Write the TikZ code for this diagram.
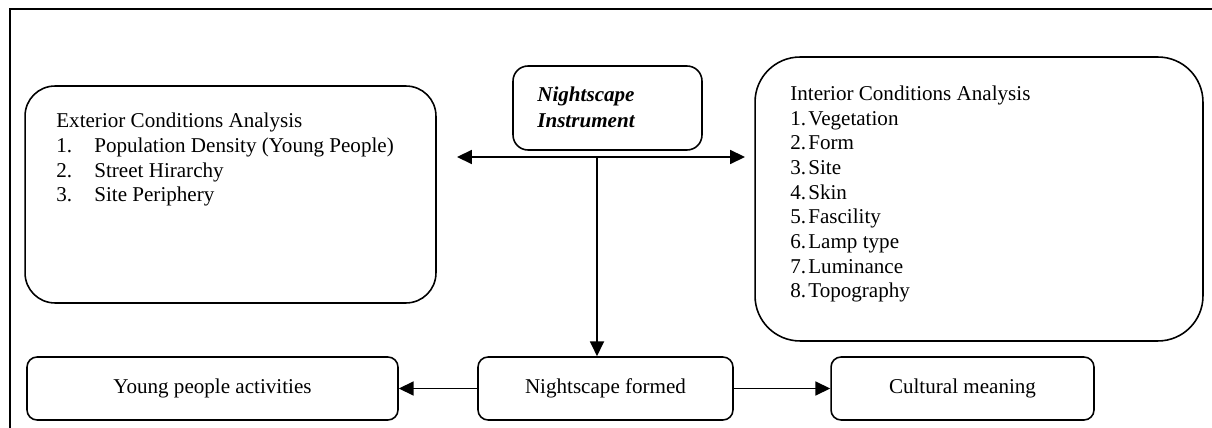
\documentclass[tikz,border=0pt]{standalone}
\usepackage{fontspec}
\setmainfont{Liberation Serif}
\usetikzlibrary{arrows.meta}

\begin{document}
\begin{tikzpicture}[x=0.02cm, y=-0.02cm,
  roundbox/.style={draw, rounded corners=#1, line width=0.9pt, inner sep=0pt,
    font=\fontsize{12}{14}\selectfont},
  roundbox/.default=0.2cm,
  listtext/.style={align=left, inner sep=0pt, anchor=base west,
    font=\fontsize{12}{14.2}\selectfont},
  onearrow/.style={-{Triangle[length=8.5pt,width=8pt]}, line width=0.9pt},
  twoarrow/.style={{Triangle[length=8.5pt,width=8pt]}-{Triangle[length=8.5pt,width=8pt]}, line width=0.9pt}]
  \useasboundingbox (0,0) rectangle (1212,428);
  % frame
  \draw[line width=1.2pt] (10,428) -- (10,9) -- (1212,9);
  % upper row (text nodes sit on the baseline of their last line)
  \node[roundbox=0.6cm, minimum width=8.22cm, minimum height=4.34cm] (ext) at (230.5,194.5) {};
  \node[listtext] (exttext) at (56,202)
       {Exterior Conditions Analysis \\
        \makebox[0.76cm][l]{1.}Population Density (Young People) \\
        \makebox[0.76cm][l]{2.}Street Hirarchy \\
        \makebox[0.76cm][l]{3.}Site Periphery};
  \node[roundbox=0.3cm, minimum width=3.78cm, minimum height=1.68cm] (instr) at (607.5,108) {};
  \node[listtext, font=\fontsize{12}{14.8}\selectfont\bfseries\itshape] (instrtext) at (537,128)
       {Nightscape \\ Instrument};
  \node[roundbox=0.9cm, minimum width=8.96cm, minimum height=5.68cm] (int) at (979,199) {};
  \node[listtext, font=\fontsize{12}{14.05}\selectfont] (inttext) at (790,298)
       {Interior Conditions Analysis \\
        \makebox[0.36cm][l]{1.}Vegetation \\
        \makebox[0.36cm][l]{2.}Form \\
        \makebox[0.36cm][l]{3.}Site \\
        \makebox[0.36cm][l]{4.}Skin \\
        \makebox[0.36cm][l]{5.}Fascility \\
        \makebox[0.36cm][l]{6.}Lamp type \\
        \makebox[0.36cm][l]{7.}Luminance \\
        \makebox[0.36cm][l]{8.}Topography};
  % lower row
  \node[roundbox, minimum width=7.42cm, minimum height=1.26cm] (young) at (212.5,388.5)
       {Young people activities};
  \node[roundbox, minimum width=5.1cm, minimum height=1.26cm] (formed) at (605.5,388.5)
       {Nightscape formed};
  \node[roundbox, minimum width=5.26cm, minimum height=1.26cm] (cult) at (962.5,388.5)
       {Cultural meaning};
  % connectors
  \coordinate (leftend) at (457,157);
  \coordinate (rightend) at (745,157);
  \coordinate (split) at (597,157);
  \draw[twoarrow] (leftend) -- (rightend);
  \draw[onearrow] (split) -- (split |- formed.north);
  \draw[onearrow] (formed.west) -- (young.east);
  \draw[onearrow] (formed.east) -- (cult.west);
\end{tikzpicture}
\end{document}
